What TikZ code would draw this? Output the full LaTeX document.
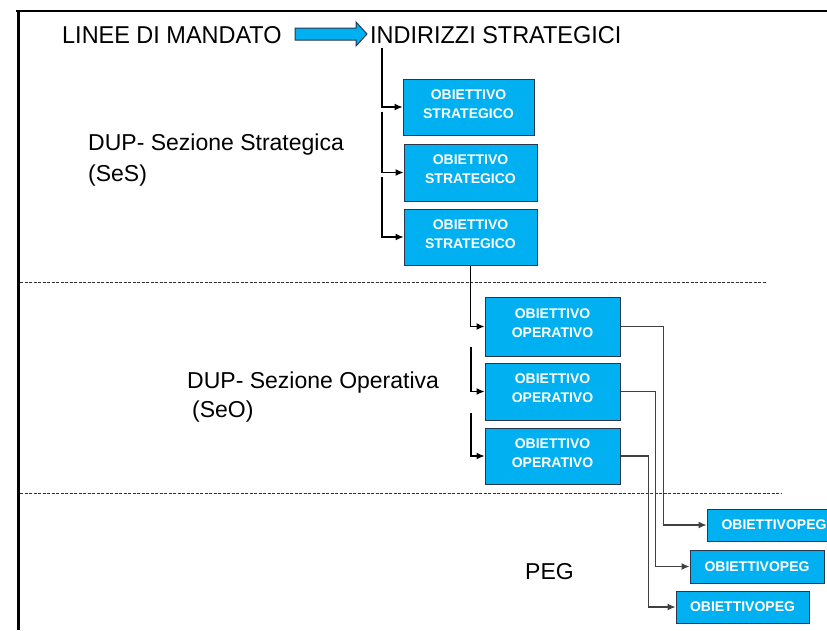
\documentclass[tikz,border=0pt]{standalone}
\usepackage{fontspec}
\setmainfont{Liberation Sans}
\usetikzlibrary{arrows.meta}
\definecolor{boxfill}{RGB}{0,176,240}
\definecolor{boxline}{RGB}{40,55,80}
\newcommand{\dn}{\rule[-6pt]{0pt}{0pt}}
\tikzset{
  obox/.style={draw=boxline, line width=1pt, fill=boxfill, text=white,
    font=\fontsize{14}{19}\selectfont\bfseries, align=center, inner sep=0pt},
  conn/.style={draw=black, line width=1.1pt, -{Latex[length=8pt,width=7pt]}},
  pconn/.style={draw=black!75, line width=1.1pt, -{Latex[length=8pt,width=7pt]}},
  lbl/.style={font=\fontsize{23}{30}\selectfont, inner sep=0pt, anchor=base west},
  sep/.style={draw=black!80, line width=1pt, dash pattern=on 3pt off 1.5pt}
}
\begin{document}
\begin{tikzpicture}[x=1pt,y=-1pt]
\clip (0,0) rectangle (827,630);
\fill[white] (0,0) rectangle (827,630);
% frame
\draw[line width=2pt] (16,11) -- (827,11);
\draw[line width=3pt] (18.5,10) -- (18.5,630);
% header
\node[lbl] (linee) at (62,43) {\scalebox{1.02}[1.06]{LINEE DI MANDATO}};
\node[lbl] (ind) at (370,43) {\scalebox{1.02}[1.06]{INDIRIZZI STRATEGICI}};
\draw[draw=boxline, line width=1pt, fill=boxfill]
  (295,28) -- (356,28) -- (356,22) -- (367,34) -- (356,46) -- (356,40) -- (295,40) -- cycle;
% section labels
\node[lbl] (ses1) at (88,150) {DUP- Sezione Strategica};
\node[lbl] (ses2) at (88,181) {(SeS)};
\node[lbl] (seo1) at (187,388) {DUP- Sezione Operativa};
\node[lbl] (seo2) at (192,417) {(SeO)};
\node[lbl] (peg) at (525,579) {PEG};
% separators
\draw[sep] (20,282) -- (767,282);
\draw[sep] (20,493) -- (782,493);
% strategic boxes
\node[obox, minimum width=131pt, minimum height=56pt] (s1) at (468.5,107) {OBIETTIVO\\STRATEGICO\dn};
\node[obox, minimum width=133pt, minimum height=57pt] (s2) at (470.5,172.5) {OBIETTIVO\\STRATEGICO\dn};
\node[obox, minimum width=133pt, minimum height=56pt] (s3) at (470.5,237) {OBIETTIVO\\STRATEGICO\dn};
% operative boxes
\node[obox, minimum width=135pt, minimum height=59pt] (o1) at (552.5,326.5) {OBIETTIVO\\OPERATIVO\dn};
\node[obox, minimum width=135pt, minimum height=57pt] (o2) at (552.5,391.5) {OBIETTIVO\\OPERATIVO\dn};
\node[obox, minimum width=135pt, minimum height=56pt] (o3) at (552.5,456) {OBIETTIVO\\OPERATIVO\dn};
% PEG boxes
\node[obox, minimum width=134pt, minimum height=32pt] (p1) at (774,525) {OBIETTIVOPEG};
\node[obox, minimum width=134pt, minimum height=33pt] (p2) at (757,566.5) {OBIETTIVOPEG};
\node[obox, minimum width=133pt, minimum height=32pt] (p3) at (742.5,607) {OBIETTIVOPEG};
% connectors
\coordinate (c0) at (382,48);
\coordinate (c1) at (382,112);
\coordinate (c2) at (382,177);
\coordinate (c3) at (471,347);
\coordinate (c4) at (471,413);
\draw[conn] (c0) |- (s1.west);
\draw[conn] (c1) |- (s2.west);
\draw[conn] (c2) |- (s3.west);
\draw[conn] (s3.south) |- (o1.west);
\draw[conn] (c3) |- (o2.west);
\draw[conn] (c4) |- (o3.west);
\draw[pconn] (o1.east) -- ++(43,0) |- (p1.west);
\draw[pconn] (o2.east) -- ++(35,0) |- (p2.west);
\draw[pconn] (o3.east) -- ++(28,0) |- (p3.west);
\end{tikzpicture}
\end{document}
